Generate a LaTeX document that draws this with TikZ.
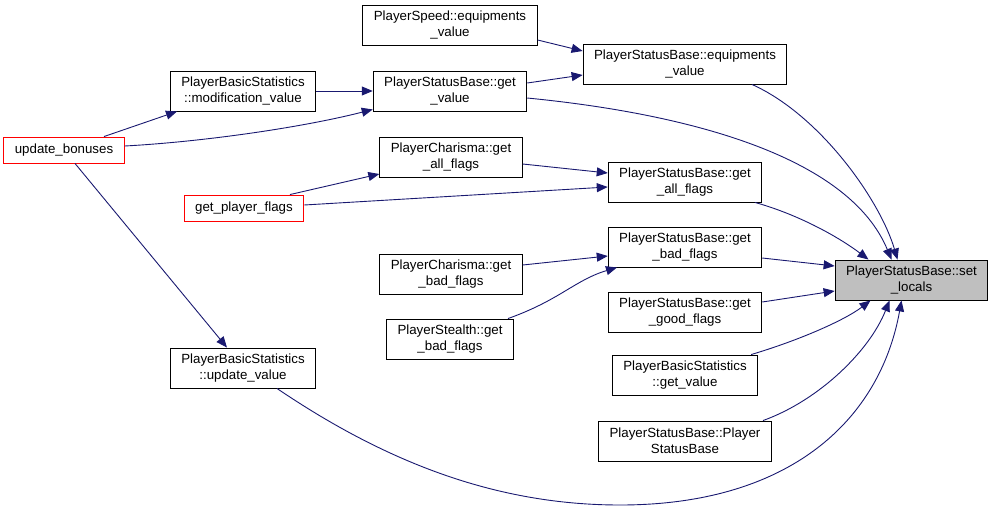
\documentclass[tikz,border=0pt]{standalone}
\usepackage{fontspec}
\setmainfont{Liberation Sans}
\usetikzlibrary{arrows.meta}
\definecolor{edgeblue}{HTML}{191970}
\definecolor{hlgray}{HTML}{BFBFBF}

\begin{document}
\begin{tikzpicture}[x=1pt,y=-1pt,fn/.style={draw=black, line width=0.9pt, minimum height=40pt, inner xsep=11pt, align=center, font=\fontsize{13.3}{16}\selectfont},ext/.style={fn, draw=red, minimum height=26pt},call/.style={draw=edgeblue, line width=0.9pt, -{Triangle[length=11pt,width=9pt]}}]
\useasboundingbox (0,0) rectangle (993,517);
% callee
\node[fn, fill=hlgray] (sl) at (911.5,280) {PlayerStatusBase::set\\\_locals};
% second column
\node[fn] (eqv) at (685,64) {PlayerStatusBase::equipments\\\_value};
\node[fn] (sgaf) at (685,182) {PlayerStatusBase::get\\\_all\_flags};
\node[fn] (sgbf) at (685,247) {PlayerStatusBase::get\\\_bad\_flags};
\node[fn] (sggf) at (685,312) {PlayerStatusBase::get\\\_good\_flags};
\node[fn] (bgv) at (685,375) {PlayerBasicStatistics\\::get\_value};
\node[fn] (ctor) at (685,441) {PlayerStatusBase::Player\\StatusBase};
% third column
\node[fn] (speedeq) at (450,25) {PlayerSpeed::equipments\\\_value};
\node[fn] (getv) at (450,91) {PlayerStatusBase::get\\\_value};
\node[fn] (cgaf) at (451,157) {PlayerCharisma::get\\\_all\_flags};
\node[fn] (cgbf) at (451,274) {PlayerCharisma::get\\\_bad\_flags};
\node[fn] (stbf) at (450,339) {PlayerStealth::get\\\_bad\_flags};
% callers on the left
\node[fn] (modv) at (243,91) {PlayerBasicStatistics\\::modification\_value};
\node[ext] (gpf) at (244,208) {get\_player\_flags};
\node[fn] (upv) at (243,368) {PlayerBasicStatistics\\::update\_value};
\node[ext] (ub) at (64,150) {update\_bonuses};
% calls
\draw[call] ([yshift=-15pt]speedeq.east) -- ([yshift=13pt]eqv.west);
\draw[call] ([yshift=8pt]getv.east) -- ([yshift=-11pt]eqv.west);
\draw[call] ([xshift=67pt]eqv.south) .. controls (820,115) and (880,200) .. ([xshift=-14pt]sl.north);
\draw[call] ([yshift=-7pt]getv.east) .. controls (700,115) and (850,160) .. ([xshift=-20pt]sl.north);
\draw[call] (modv.east) -- (getv.west);
\draw[call] ([xshift=40pt]ub.north) -- ([xshift=-66pt]modv.south);
\draw[call] ([yshift=4pt]ub.east) .. controls (200,142) and (300,128) .. ([yshift=2pt]getv.south west);
\draw[call] ([xshift=11pt]ub.south) -- ([xshift=-16pt]upv.north);
\draw[call] ([xshift=46pt]gpf.north) -- ([yshift=-17pt]cgaf.west);
\draw[call] ([yshift=3pt]gpf.east) -- ([yshift=-5pt]sgaf.west);
\draw[call] ([yshift=-7pt]cgaf.east) -- ([yshift=9pt]sgaf.west);
\draw[call] ([xshift=70pt]sgaf.south) .. controls (800,215) and (840,238) .. ([xshift=-43pt]sl.north);
\draw[call] ([yshift=9pt]cgbf.east) -- ([yshift=-9pt]sgbf.west);
\draw[call] ([xshift=58pt]stbf.north) .. controls (560,300) and (575,280) .. ([xshift=-68pt]sgbf.south);
\draw[call] ([yshift=-11pt]sgbf.east) -- ([yshift=14pt]sl.west);
\draw[call] ([yshift=10pt]sggf.east) -- ([yshift=-11pt]sl.west);
\draw[call] ([xshift=-7pt]bgv.north east) .. controls (800,340) and (845,320) .. ([xshift=-41pt]sl.south);
\draw[call] ([xshift=78pt]ctor.north) .. controls (820,400) and (870,350) .. ([xshift=-22pt]sl.south);
\draw[call] ([xshift=34pt]upv.south) .. controls (390,465) and (500,505) .. (620,505) .. controls (790,505) and (880,420) .. ([xshift=-10pt]sl.south);
\end{tikzpicture}
\end{document}
